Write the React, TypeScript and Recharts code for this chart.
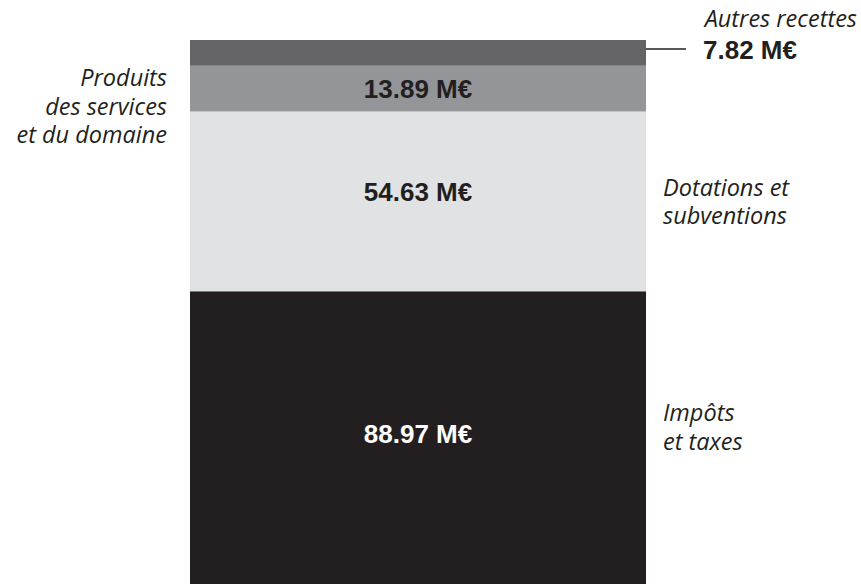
import React from "react";
import { BarChart, Bar, XAxis, YAxis, LabelList } from "recharts";

const categories = ["Recettes"];
const impots = [88.97];
const dotations = [54.63];
const produits = [13.89];
const autres = [7.82];

const data = categories.map((name, i) => ({
  name,
  impots: impots[i],
  dotations: dotations[i],
  produits: produits[i],
  autres: autres[i],
}));

const total = impots[0] + dotations[0] + produits[0] + autres[0];

const DARK = "#231f20";
const VALUE_FONT = "'Liberation Sans', Arial, Helvetica, sans-serif";
const LABEL_FONT = "'Open Sans', 'Noto Sans', sans-serif";

const fmt = (v: number) => `${v.toFixed(2)} M€`;

const valueText = (
  x: number,
  width: number,
  baseline: number,
  value: number,
  fill: string
) => (
  <text
    x={x + width / 2}
    y={baseline}
    textAnchor="middle"
    fontFamily={VALUE_FONT}
    fontWeight="bold"
    fontSize={26}
    fill={fill}
  >
    {fmt(value)}
  </text>
);

const italicLines = (
  x: number,
  firstBaseline: number,
  lines: string[],
  anchor: "start" | "end"
) => (
  <text
    fontFamily={LABEL_FONT}
    fontStyle="italic"
    fontSize={23.5}
    fill={DARK}
    textAnchor={anchor}
  >
    {lines.map((l, i) => (
      <tspan key={i} x={x} y={firstBaseline + i * 28.5}>
        {l}
      </tspan>
    ))}
  </text>
);

const ImpotsLabel = (p: any) => {
  const x = Number(p.x), y = Number(p.y), w = Number(p.width), h = Number(p.height);
  const c = y + h / 2;
  return (
    <g>
      {valueText(x, w, c + 5, Number(p.value), "#ffffff")}
      {italicLines(x + w + 17, c - 16.5, ["Impôts", "et taxes"], "start")}
    </g>
  );
};

const DotationsLabel = (p: any) => {
  const x = Number(p.x), y = Number(p.y), w = Number(p.width), h = Number(p.height);
  const c = y + h / 2;
  return (
    <g>
      {valueText(x, w, c - 0.5, Number(p.value), DARK)}
      {italicLines(x + w + 17, c - 5.5, ["Dotations et", "subventions"], "start")}
    </g>
  );
};

const ProduitsLabel = (p: any) => {
  const x = Number(p.x), y = Number(p.y), w = Number(p.width), h = Number(p.height);
  const c = y + h / 2;
  return (
    <g>
      {valueText(x, w, c + 9.5, Number(p.value), DARK)}
      {italicLines(x - 23, c - 2.5, ["Produits", "des services", "et du domaine"], "end")}
    </g>
  );
};

const AutresLabel = (p: any) => {
  const x = Number(p.x), y = Number(p.y), w = Number(p.width);
  const lineY = y + 9;
  return (
    <g>
      <line x1={x + w} x2={x + w + 40} y1={lineY} y2={lineY} stroke={DARK} strokeWidth={1.5} />
      <text
        x={857}
        y={27}
        textAnchor="end"
        fontFamily={LABEL_FONT}
        fontStyle="italic"
        fontSize={23.5}
        fill={DARK}
      >
        Autres recettes
      </text>
      <text
        x={x + w + 57}
        y={lineY + 9.5}
        textAnchor="start"
        fontFamily={VALUE_FONT}
        fontWeight="bold"
        fontSize={26}
        fill={DARK}
      >
        {fmt(Number(p.value))}
      </text>
    </g>
  );
};

export default function App() {
  return (
    <div style={{ position: "absolute", left: 0, top: 0, width: 861, height: 584, background: "#fff" }}>
      <BarChart
        width={861}
        height={584}
        data={data}
        margin={{ top: 40, right: 215, bottom: 0, left: 190 }}
        barCategoryGap={0}
        barGap={0}
      >
        <XAxis dataKey="name" hide />
        <YAxis hide domain={[0, total]} />
        <Bar dataKey="impots" stackId="a" fill="#231f20" isAnimationActive={false}>
          <LabelList dataKey="impots" content={ImpotsLabel} />
        </Bar>
        <Bar dataKey="dotations" stackId="a" fill="#e1e2e4" isAnimationActive={false}>
          <LabelList dataKey="dotations" content={DotationsLabel} />
        </Bar>
        <Bar dataKey="produits" stackId="a" fill="#939598" isAnimationActive={false}>
          <LabelList dataKey="produits" content={ProduitsLabel} />
        </Bar>
        <Bar dataKey="autres" stackId="a" fill="#646466" isAnimationActive={false}>
          <LabelList dataKey="autres" content={AutresLabel} />
        </Bar>
      </BarChart>
    </div>
  );
}
